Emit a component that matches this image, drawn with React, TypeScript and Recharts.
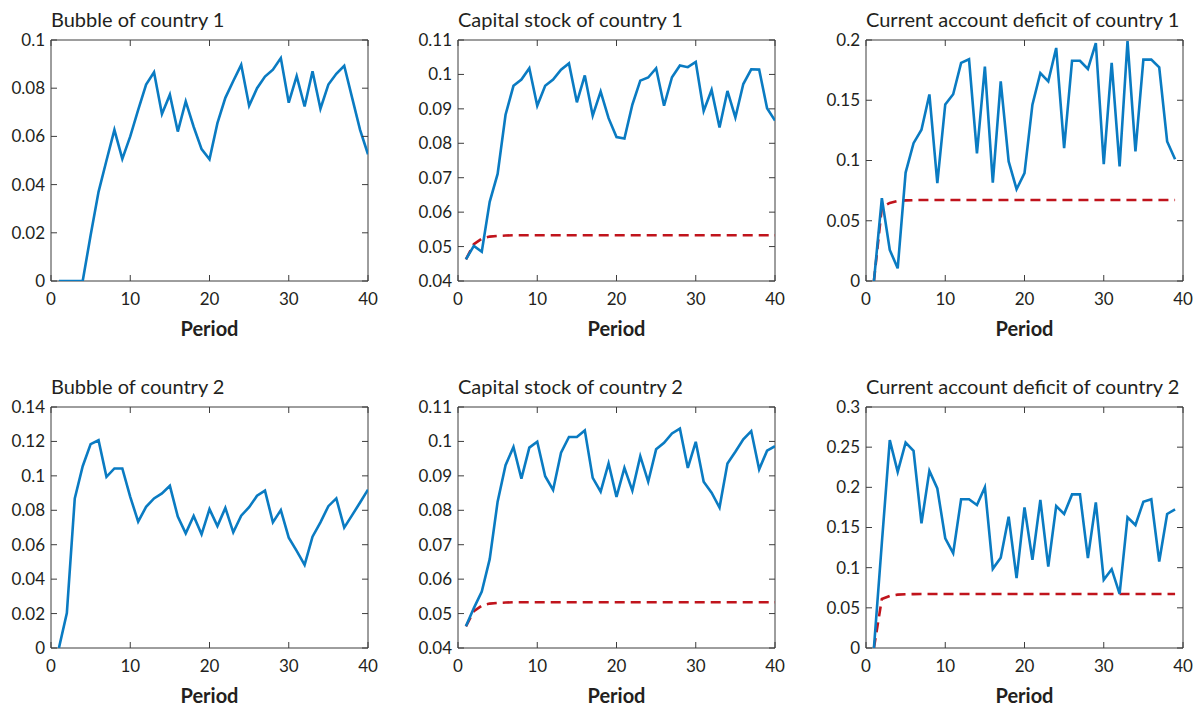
import React from 'react';
import { LineChart, Line, XAxis, YAxis, ReferenceArea } from 'recharts';

// ---------- data ----------
const periods = [1, 2, 3, 4, 5, 6, 7, 8, 9, 10, 11, 12, 13, 14, 15, 16, 17, 18, 19, 20,
  21, 22, 23, 24, 25, 26, 27, 28, 29, 30, 31, 32, 33, 34, 35, 36, 37, 38, 39, 40];

const bubble1 = [0, 0, 0, 0, 0.019, 0.037, 0.05, 0.0627, 0.0507, 0.06, 0.071, 0.0815, 0.0866, 0.0693,
  0.0773, 0.062, 0.0745, 0.064, 0.0547, 0.0505, 0.0655, 0.076, 0.083, 0.0897, 0.0727, 0.08, 0.0848,
  0.0877, 0.0925, 0.074, 0.085, 0.0724, 0.087, 0.0715, 0.0815, 0.086, 0.0893, 0.076, 0.0627, 0.0526];

const capital1 = [0.0463, 0.0502, 0.0485, 0.063, 0.0711, 0.0883, 0.0967, 0.0985, 0.1018, 0.0909,
  0.0967, 0.0985, 0.1014, 0.1032, 0.0919, 0.0997, 0.088, 0.095, 0.0873, 0.0818, 0.0814, 0.0912,
  0.0982, 0.0991, 0.1018, 0.0909, 0.0992, 0.1026, 0.1021, 0.1036, 0.0894, 0.0955, 0.0846, 0.0952,
  0.0875, 0.0972, 0.1015, 0.1014, 0.0902, 0.0866];

const capitalSteady = [0.0463, 0.0507, 0.0523, 0.0529, 0.0531, 0.0532, 0.0533, 0.0533, 0.0533, 0.0533,
  0.0533, 0.0533, 0.0533, 0.0533, 0.0533, 0.0533, 0.0533, 0.0533, 0.0533, 0.0533, 0.0533, 0.0533,
  0.0533, 0.0533, 0.0533, 0.0533, 0.0533, 0.0533, 0.0533, 0.0533, 0.0533, 0.0533, 0.0533, 0.0533,
  0.0533, 0.0533, 0.0533, 0.0533, 0.0533, 0.0533];

const caDeficit1 = [0, 0.0687, 0.0258, 0.0105, 0.09, 0.1144, 0.1255, 0.1548, 0.0812, 0.1465, 0.155,
  0.181, 0.184, 0.106, 0.178, 0.0817, 0.1657, 0.0992, 0.0762, 0.0895, 0.1463, 0.1726, 0.1657, 0.1934,
  0.1103, 0.1828, 0.1828, 0.176, 0.1975, 0.097, 0.181, 0.095, 0.199, 0.1075, 0.1837, 0.1837, 0.1773,
  0.1158, 0.101];

const caSteady = [0, 0.061, 0.0648, 0.0664, 0.0669, 0.0671, 0.0672, 0.0672, 0.0672, 0.0672, 0.0672,
  0.0672, 0.0672, 0.0672, 0.0672, 0.0672, 0.0672, 0.0672, 0.0672, 0.0672, 0.0672, 0.0672, 0.0672,
  0.0672, 0.0672, 0.0672, 0.0672, 0.0672, 0.0672, 0.0672, 0.0672, 0.0672, 0.0672, 0.0672, 0.0672,
  0.0672, 0.0672, 0.0672, 0.0672];

const bubble2 = [0, 0.0203, 0.0869, 0.1056, 0.1184, 0.1207, 0.0994, 0.1043, 0.1043, 0.0878, 0.0734,
  0.082, 0.0869, 0.0898, 0.0942, 0.0763, 0.0666, 0.0767, 0.066, 0.0807, 0.0708, 0.0814, 0.0672,
  0.0769, 0.0818, 0.0885, 0.0914, 0.073, 0.0801, 0.0641, 0.0564, 0.0483, 0.0647, 0.073, 0.0824,
  0.0869, 0.0699, 0.0772, 0.0845, 0.092];

const capital2 = [0.0463, 0.0516, 0.0564, 0.0658, 0.0825, 0.0931, 0.0984, 0.0892, 0.0982, 0.0999,
  0.0899, 0.0859, 0.0967, 0.1013, 0.1013, 0.1032, 0.0894, 0.0854, 0.0936, 0.0839, 0.0923, 0.0857,
  0.0957, 0.0883, 0.0977, 0.0996, 0.1023, 0.1037, 0.0923, 0.0999, 0.0883, 0.0851, 0.0808, 0.0936,
  0.097, 0.1006, 0.103, 0.0919, 0.0973, 0.0986];

const caDeficit2 = [0, 0.1307, 0.2587, 0.2193, 0.2557, 0.2454, 0.1552, 0.2205, 0.1986, 0.1366, 0.118,
  0.1851, 0.1851, 0.178, 0.2, 0.0985, 0.1125, 0.1635, 0.0869, 0.1751, 0.1097, 0.1842, 0.1014, 0.1767,
  0.1668, 0.1912, 0.1912, 0.1118, 0.1813, 0.0849, 0.0981, 0.0675, 0.1627, 0.1531, 0.1821, 0.1851,
  0.1076, 0.1668, 0.1726];

const xTicks = [0, 10, 20, 30, 40];
const bubble1Ticks = [0, 0.02, 0.04, 0.06, 0.08, 0.1];
const capitalTicks = [0.04, 0.05, 0.06, 0.07, 0.08, 0.09, 0.1, 0.11];
const ca1Ticks = [0, 0.05, 0.1, 0.15, 0.2];
const bubble2Ticks = [0, 0.02, 0.04, 0.06, 0.08, 0.1, 0.12, 0.14];
const ca2Ticks = [0, 0.05, 0.1, 0.15, 0.2, 0.25, 0.3];

const titles = [
  'Bubble of country 1', 'Capital stock of country 1', 'Current account deficit of country 1',
  'Bubble of country 2', 'Capital stock of country 2', 'Current account deficit of country 2',
];
const xLabel = 'Period';

// ---------- style / layout ----------
const FONT = 'Lato, "Open Sans", sans-serif';
const TEXT = '#231f20';
const AXIS = '#3d3d3d';
const BLUE = '#0a7bc2';
const RED = '#c0141c';
const ML = 60, MR = 10, MT = 40, MB = 70, PW = 317, PH = 241, TL = 6;
const COLS = [51, 458, 866];
const ROWS = [40, 407];

const XTick = (props: any) => {
  const { x, payload } = props;
  return (
    <g>
      <line x1={x} x2={x} y1={MT + PH} y2={MT + PH - TL} stroke={AXIS} strokeWidth={1} />
      <line x1={x} x2={x} y1={MT} y2={MT + TL} stroke={AXIS} strokeWidth={1} />
      <text x={x} y={MT + PH + 24} textAnchor="middle" fill={TEXT} fontSize={17} fontFamily={FONT}>
        {String(payload.value)}
      </text>
    </g>
  );
};

const YTick = (props: any) => {
  const { y, payload } = props;
  return (
    <g>
      <line x1={ML} x2={ML + TL} y1={y} y2={y} stroke={AXIS} strokeWidth={1} />
      <line x1={ML + PW} x2={ML + PW - TL} y1={y} y2={y} stroke={AXIS} strokeWidth={1} />
      <text x={ML - 6} y={y} dy="0.35em" textAnchor="end" fill={TEXT} fontSize={17} fontFamily={FONT}>
        {String(payload.value)}
      </text>
    </g>
  );
};

type PanelProps = {
  left: number; top: number;
  values: number[]; steady?: number[];
  yTicks: number[];
};

function Panel({ left, top, values, steady, yTicks }: PanelProps) {
  const data = periods.map((p, i) => ({
    period: p,
    v: values[i],
    s: steady ? steady[i] : undefined,
  }));
  const yMin = yTicks[0];
  const yMax = yTicks[yTicks.length - 1];
  return (
    <div style={{ position: 'absolute', left: left - ML, top: top - MT }}>
      <LineChart width={ML + PW + MR} height={MT + PH + MB} data={data}
        margin={{ top: MT, right: MR, bottom: 0, left: 0 }}>
        <XAxis dataKey="period" type="number" domain={[0, 40]} ticks={xTicks} interval={0}
          height={MB} tickSize={0} tickMargin={0} tickLine={false} axisLine={false}
          tick={<XTick />} allowDataOverflow />
        <YAxis type="number" domain={[yMin, yMax]} ticks={yTicks} interval={0}
          width={ML} tickSize={0} tickMargin={0} tickLine={false} axisLine={false}
          tick={<YTick />} allowDataOverflow />
        <ReferenceArea x1={0} x2={40} y1={yMin} y2={yMax} fill="none" fillOpacity={0}
          stroke={AXIS} strokeWidth={1} />
        {steady && (
          <Line type="linear" dataKey="s" stroke={RED} strokeWidth={2.6} strokeDasharray="10 6"
            dot={false} activeDot={false} isAnimationActive={false} />
        )}
        <Line type="linear" dataKey="v" stroke={BLUE} strokeWidth={2.6}
          dot={false} activeDot={false} isAnimationActive={false} />
      </LineChart>
    </div>
  );
}

export default function App() {
  const panels: PanelProps[] = [
    { left: COLS[0], top: ROWS[0], values: bubble1, yTicks: bubble1Ticks },
    { left: COLS[1], top: ROWS[0], values: capital1, steady: capitalSteady, yTicks: capitalTicks },
    { left: COLS[2], top: ROWS[0], values: caDeficit1, steady: caSteady, yTicks: ca1Ticks },
    { left: COLS[0], top: ROWS[1], values: bubble2, yTicks: bubble2Ticks },
    { left: COLS[1], top: ROWS[1], values: capital2, steady: capitalSteady, yTicks: capitalTicks },
    { left: COLS[2], top: ROWS[1], values: caDeficit2, steady: caSteady, yTicks: ca2Ticks },
  ];
  return (
    <div style={{ position: 'absolute', left: 0, top: 0, width: 1193, height: 707, overflow: 'hidden', background: '#fff' }}>
      {panels.map((p, i) => <Panel key={i} {...p} />)}
      <svg width={1193} height={707} style={{ position: 'absolute', left: 0, top: 0, pointerEvents: 'none' }}>
        {panels.map((p, i) => (
          <g key={i}>
            <text x={p.left} y={p.top - 13} fill={TEXT} fontSize={20} fontFamily={FONT}>{titles[i]}</text>
            <text x={p.left + PW / 2} y={p.top + PH + 55} textAnchor="middle" fill={TEXT}
              fontSize={20} fontWeight="bold" fontFamily={FONT}>{xLabel}</text>
          </g>
        ))}
      </svg>
    </div>
  );
}
